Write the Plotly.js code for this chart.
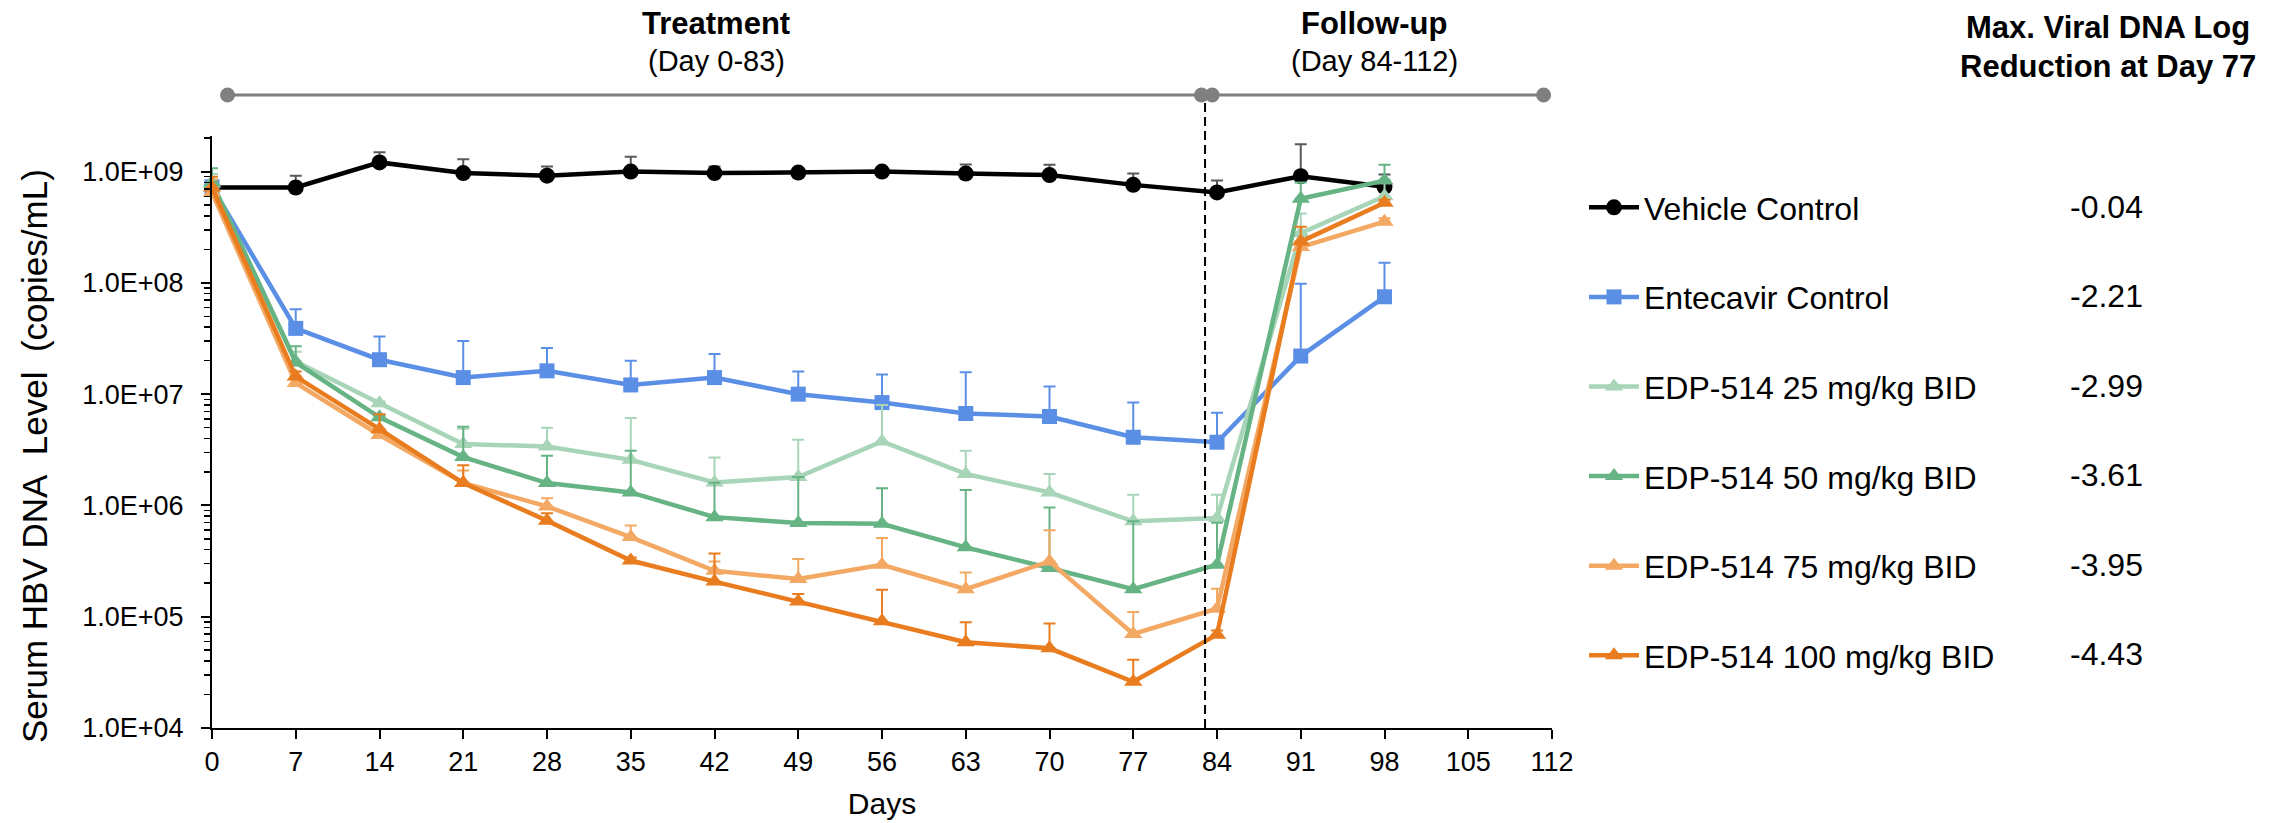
<!DOCTYPE html>
<html>
<head>
<meta charset="utf-8">
<script src="https://cdn.plot.ly/plotly-3.0.1.min.js"></script>
<style>html,body{margin:0;padding:0;background:#fff;}#chart{width:2287px;height:823px;}</style>
</head>
<body>
<div id="chart"></div>
<script>
// ---------------- data ----------------
const days = [0, 7, 14, 21, 28, 35, 42, 49, 56, 63, 70, 77, 84, 91, 98];

const seriesNames = ["Vehicle Control", "Entecavir Control", "EDP-514 25 mg/kg BID",
                     "EDP-514 50 mg/kg BID", "EDP-514 75 mg/kg BID", "EDP-514 100 mg/kg BID"];

const vehicle    = [7.2e8, 7.2e8, 1.21e9, 9.7e8, 9.2e8, 1.0e9, 9.7e8, 9.8e8, 1.0e9, 9.6e8, 9.3e8, 7.6e8, 6.5e8, 9.1e8, 7.3e8];
const entecavir  = [7.3e8, 3.9e7, 2.04e7, 1.41e7, 1.62e7, 1.21e7, 1.41e7, 1.0e7, 8.4e6, 6.7e6, 6.3e6, 4.1e6, 3.7e6, 2.2e7, 7.5e7];
const edp25      = [7.8e8, 1.97e7, 8.3e6, 3.56e6, 3.39e6, 2.57e6, 1.61e6, 1.8e6, 3.76e6, 1.92e6, 1.31e6, 7.2e5, 7.7e5, 2.8e8, 6.0e8];
const edp50      = [8.0e8, 1.93e7, 6.2e6, 2.72e6, 1.59e6, 1.31e6, 7.85e5, 6.95e5, 6.85e5, 4.2e5, 2.74e5, 1.77e5, 2.93e5, 5.7e8, 8.3e8];
const edp75      = [6.5e8, 1.26e7, 4.3e6, 1.59e6, 9.8e5, 5.2e5, 2.59e5, 2.18e5, 2.93e5, 1.77e5, 3.14e5, 7.0e4, 1.18e5, 2.1e8, 3.55e8];
const edp100     = [7.2e8, 1.44e7, 4.85e6, 1.59e6, 7.3e5, 3.2e5, 2.07e5, 1.37e5, 9.1e4, 5.9e4, 5.2e4, 2.6e4, 6.9e4, 2.35e8, 5.25e8];

// top end of each (upper-only) error bar
const vehicleUpper   = [7.2e8, 9.2e8, 1.49e9, 1.29e9, 1.11e9, 1.36e9, 1.11e9, 1.0e9, 1.02e9, 1.16e9, 1.15e9, 9.6e8, 8.3e8, 1.76e9, 9.4e8];
const entecavirUpper = [7.3e8, 5.8e7, 3.3e7, 3.0e7, 2.6e7, 2.0e7, 2.3e7, 1.6e7, 1.5e7, 1.57e7, 1.17e7, 8.4e6, 6.8e6, 9.8e7, 1.52e8];
const edp25Upper     = [9.5e8, 2.4e7, 8.6e6, 4.9e6, 5.0e6, 6.1e6, 2.7e6, 3.9e6, 8.0e6, 3.1e6, 1.92e6, 1.25e6, 1.25e6, 4.2e8, 8.5e8];
const edp50Upper     = [1.07e9, 2.7e7, 6.5e6, 5.1e6, 2.8e6, 3.1e6, 1.6e6, 1.8e6, 1.43e6, 1.38e6, 9.6e5, 7.2e5, 7.0e5, 8.0e8, 1.15e9];
const edp75Upper     = [8.5e8, 1.35e7, 4.6e6, 2.06e6, 1.16e6, 6.6e5, 3.14e5, 3.3e5, 5.1e5, 2.5e5, 6.0e5, 1.1e5, 1.78e5, 2.3e8, 3.8e8];
const edp100Upper    = [9.0e8, 1.6e7, 6.6e6, 2.3e6, 8.5e5, 3.4e5, 3.7e5, 1.6e5, 1.75e5, 8.9e4, 8.7e4, 4.1e4, 7.5e4, 3.2e8, 5.6e8];

const logReduction = ["-0.04", "-2.21", "-2.99", "-3.61", "-3.95", "-4.43"];

const yTickVals = [1e4, 1e5, 1e6, 1e7, 1e8, 1e9];
const yTickText = ["1.0E+04", "1.0E+05", "1.0E+06", "1.0E+07", "1.0E+08", "1.0E+09"];
const xTickVals = [0, 7, 14, 21, 28, 35, 42, 49, 56, 63, 70, 77, 84, 91, 98, 105, 112];

// study phases (days) for the timeline above the plot
const phaseMarks = [1.3, 82.7, 83.6, 111.3];
const treatmentEnd = 83;

// ---------------- styling ----------------
const FONT = "Liberation Sans, Arial, sans-serif";
const colors  = ["#000000", "#5b8fe6", "#a8d5b8", "#66b384", "#f3a964", "#e87c1e"];
const errCols = ["#595959", "#5b8fe6", "#a8d5b8", "#66b384", "#f3a964", "#e87c1e"];
const symbols = ["circle", "square", "triangle-up", "triangle-up", "triangle-up", "triangle-up"];
const msizes  = [16, 15, 16, 16, 16, 16];
const values  = [vehicle, entecavir, edp25, edp50, edp75, edp100];
const uppers  = [vehicleUpper, entecavirUpper, edp25Upper, edp50Upper, edp75Upper, edp100Upper];

// plot area in pixels
const L = 212, R = 1552, T = 136, B = 728;
const px = p => (p - L) / (R - L);
const py = p => (B - p) / (B - T);

const traces = seriesNames.map((name, i) => ({
  type: "scatter",
  mode: "lines+markers",
  name: name,
  legendgroup: "g" + i,
  x: days,
  y: values[i],
  line: {color: colors[i], width: 4.5},
  marker: {color: colors[i], symbol: symbols[i], size: msizes[i]},
  error_y: {
    type: "data", symmetric: false,
    array: uppers[i].map((u, k) => Math.max(0, u - values[i][k])),
    arrayminus: values[i].map(() => 0),
    color: errCols[i], thickness: 2, width: 6
  },
  cliponaxis: false
}));

const timelineY = py(95);
const shapes = [
  {type: "line", xref: "x", yref: "paper", x0: phaseMarks[0], x1: phaseMarks[3], y0: timelineY, y1: timelineY,
   line: {color: "#7f7f7f", width: 3}},
  {type: "line", xref: "x", yref: "paper", x0: treatmentEnd, x1: treatmentEnd, y0: 0, y1: timelineY,
   line: {color: "#000000", width: 2, dash: "9px,5px"}}
].concat(phaseMarks.map(d => ({
  type: "circle", xref: "x", yref: "paper", xsizemode: "pixel", ysizemode: "pixel",
  xanchor: d, yanchor: timelineY, x0: -7.5, x1: 7.5, y0: -7.5, y1: 7.5,
  fillcolor: "#808080", line: {color: "#808080", width: 0}
})));

const rowY = [206.7, 296, 385.8, 475, 565, 654.3];
const annotations = [
  {text: "<b>Treatment</b>", x: px(716), y: py(24), font: {size: 31}},
  {text: "(Day 0-83)", x: px(716), y: py(61), font: {size: 29}},
  {text: "<b>Follow-up</b>", x: px(1374), y: py(24), font: {size: 31}},
  {text: "(Day 84-112)", x: px(1374), y: py(61), font: {size: 29}},
  {text: "<b>Max. Viral DNA Log</b>", x: px(2108), y: py(28), font: {size: 31}},
  {text: "<b>Reduction at Day 77</b>", x: px(2108), y: py(66), font: {size: 31}},
  {text: "Serum HBV DNA\u00a0 Level\u00a0 (copies/mL)", x: px(34), y: py(456), textangle: -90, font: {size: 35}}
].map(a => Object.assign({xref: "paper", yref: "paper", showarrow: false, xanchor: "center", yanchor: "middle"}, a,
                        {font: Object.assign({family: FONT, color: "#000"}, a.font)}))
 .concat(logReduction.map((v, i) => ({
   xref: "paper", yref: "paper", showarrow: false, xanchor: "left", yanchor: "middle",
   x: px(2068), y: py(rowY[i]), text: v, font: {family: FONT, size: 32, color: "#000"}
 })));

const layout = {
  width: 2287, height: 823,
  margin: {l: L, r: 2287 - R, t: T, b: 823 - B, pad: 0},
  paper_bgcolor: "#ffffff", plot_bgcolor: "#ffffff",
  font: {family: FONT, color: "#000"},
  showlegend: true,
  legend: {
    x: px(1584), xanchor: "left", y: py(180), yanchor: "top",
    font: {family: FONT, size: 32, color: "#000"},
    tracegroupgap: 45, itemwidth: 50, bgcolor: "rgba(0,0,0,0)", borderwidth: 0,
    traceorder: "grouped"
  },
  xaxis: {
    range: [0, 112], tickvals: xTickVals, ticks: "outside", ticklen: 9, tickwidth: 2, tickcolor: "#000",
    showline: true, linecolor: "#000", linewidth: 2, showgrid: false, zeroline: false,
    tickfont: {family: FONT, size: 27, color: "#000"},
    title: {text: "Days", font: {family: FONT, size: 30, color: "#000"}, standoff: 17}
  },
  yaxis: {
    type: "log", range: [4, 9.32], tickvals: yTickVals, ticktext: yTickText,
    ticks: "outside", ticklen: 9, tickwidth: 2, tickcolor: "#000",
    minor: {ticks: "outside", ticklen: 6, tickwidth: 1.5, tickcolor: "#000", dtick: "D1", showgrid: false},
    showline: true, linecolor: "#000", linewidth: 2, showgrid: false, zeroline: false,
    tickfont: {family: FONT, size: 27, color: "#000"}, ticklabelstandoff: 12
  },
  shapes: shapes,
  annotations: annotations
};

Plotly.newPlot("chart", traces, layout, {displayModeBar: false, staticPlot: true});
</script>
</body>
</html>
